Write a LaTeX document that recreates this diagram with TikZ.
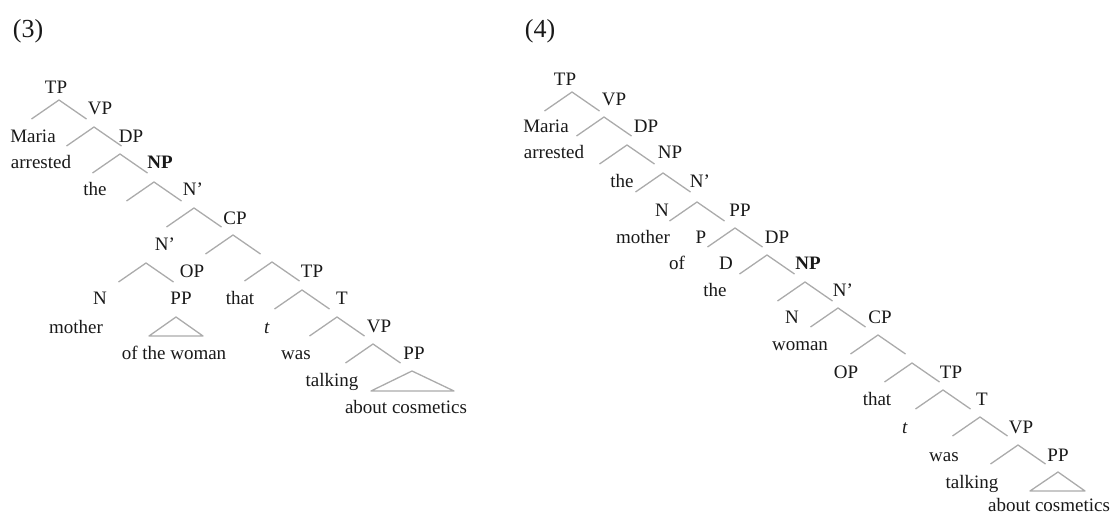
\documentclass[tikz,border=0pt]{standalone}
\usepackage{fontspec}
\setmainfont{Liberation Serif}
\tikzset{
  br/.style={draw=black!33, line width=1.3pt, line join=round},
  lab/.style={anchor=base, inner sep=0pt, text=black!90, font=\fontsize{19}{22}\selectfont},
  num/.style={anchor=base, inner sep=0pt, text=black!90, font=\fontsize{26}{30}\selectfont},
}
\newcommand\mybrk[3]{%
  \coordinate (#1) at (#2,#3);
  \coordinate (#1l) at (#2-27.5,#3+19);
  \coordinate (#1r) at (#2+27.5,#3+19);
  \draw[br] (#1l) -- (#1) -- (#1r);
}
\begin{document}
\begin{tikzpicture}[x=1pt,y=-1pt]
\useasboundingbox (0,0) rectangle (1113,513);

% ---------- tree (3) ----------
\node[num] (n3) at (28,38) {(3)};
\node[lab] (c3tp) at (56,94) {TP};
\node[lab] (c3vp) at (100,115) {VP};
\node[lab] (c3maria) at (33,143) {Maria};
\node[lab] (c3dp) at (131,143) {DP};
\node[lab] (c3arr) at (41,169) {arrested};
\node[lab] (c3np) at (160,169) {\textbf{NP}};
\node[lab] (c3the) at (95,196) {the};
\node[lab] (c3nb) at (193,196) {N'};
\node[lab] (c3cp) at (235,224) {CP};
\node[lab] (c3nbb) at (165,250) {N'};
\node[lab] (c3op) at (192,277) {OP};
\node[lab] (c3tp2) at (312,277) {TP};
\node[lab] (c3n) at (100,304) {N};
\node[lab] (c3pp) at (181,304) {PP};
\node[lab] (c3that) at (240,304) {that};
\node[lab] (c3t) at (342,304) {T};
\node[lab] (c3mother) at (76,333) {mother};
\node[lab] (c3tr) at (267,333) {\textit{t}};
\node[lab] (c3vp2) at (379,332) {VP};
\node[lab] (c3oftw) at (174,359) {of the woman};
\node[lab] (c3was) at (296,359) {was};
\node[lab] (c3pp2) at (414,359) {PP};
\node[lab] (c3talk) at (332,386) {talking};
\node[lab] (c3about) at (406,413) {about cosmetics};

\mybrk{a1}{59}{100}
\mybrk{a2}{94}{127}
\mybrk{a3}{120}{154}
\mybrk{a4}{154}{182}
\mybrk{a5}{194}{208}
\mybrk{a6}{233}{235}
\mybrk{a7}{146}{263}
\mybrk{a8}{272}{262}
\mybrk{a9}{302}{290}
\mybrk{a10}{337}{317}
\mybrk{a11}{373}{344}
\coordinate (p3a) at (176,317);
\coordinate (p3l) at (149,336);
\coordinate (p3r) at (203,336);
\draw[br] (p3l) -- (p3a) -- (p3r) -- cycle;
\coordinate (q3a) at (412,371);
\coordinate (q3l) at (371,391);
\coordinate (q3r) at (454,391);
\draw[br] (q3l) -- (q3a) -- (q3r) -- cycle;

% ---------- tree (4) ----------
\node[num] (n4) at (540,38) {(4)};
\node[lab] (d4tp) at (565,86) {TP};
\node[lab] (d4vp) at (614,106) {VP};
\node[lab] (d4maria) at (546,133) {Maria};
\node[lab] (d4dp) at (646,133) {DP};
\node[lab] (d4arr) at (554,159) {arrested};
\node[lab] (d4np) at (670,159) {NP};
\node[lab] (d4the) at (622,188) {the};
\node[lab] (d4nb) at (700,188) {N'};
\node[lab] (d4n) at (662,216) {N};
\node[lab] (d4pp) at (740,216) {PP};
\node[lab] (d4mother) at (643,243) {mother};
\node[lab] (d4p) at (701,243) {P};
\node[lab] (d4dp2) at (777,243) {DP};
\node[lab] (d4of) at (677,269) {of};
\node[lab] (d4d) at (726,269) {D};
\node[lab] (d4np2) at (808,269) {\textbf{NP}};
\node[lab] (d4the2) at (715,296) {the};
\node[lab] (d4nb2) at (843,296) {N'};
\node[lab] (d4n2) at (792,323) {N};
\node[lab] (d4cp) at (880,323) {CP};
\node[lab] (d4woman) at (800,350) {woman};
\node[lab] (d4op) at (846,378) {OP};
\node[lab] (d4tp2) at (951,378) {TP};
\node[lab] (d4that) at (877,405) {that};
\node[lab] (d4t) at (982,405) {T};
\node[lab] (d4tr) at (905,433) {\textit{t}};
\node[lab] (d4vp2) at (1021,433) {VP};
\node[lab] (d4was) at (944,461) {was};
\node[lab] (d4pp2) at (1058,461) {PP};
\node[lab] (d4talk) at (972,488) {talking};
\node[lab] (d4about) at (1049,511) {about cosmetics};

\mybrk{b1}{572}{92}
\mybrk{b2}{604}{117}
\mybrk{b3}{627}{145}
\mybrk{b4}{663}{173}
\mybrk{b5}{697}{202}
\mybrk{b6}{735}{228}
\mybrk{b7}{767}{255}
\mybrk{b8}{805}{282}
\mybrk{b9}{838}{308}
\mybrk{b10}{878}{335}
\mybrk{b11}{912}{363}
\mybrk{b12}{943}{390}
\mybrk{b13}{980}{417}
\mybrk{b14}{1018}{445}
\coordinate (q4a) at (1058,472);
\coordinate (q4l) at (1030,491);
\coordinate (q4r) at (1085,491);
\draw[br] (q4l) -- (q4a) -- (q4r) -- cycle;
\end{tikzpicture}
\end{document}
